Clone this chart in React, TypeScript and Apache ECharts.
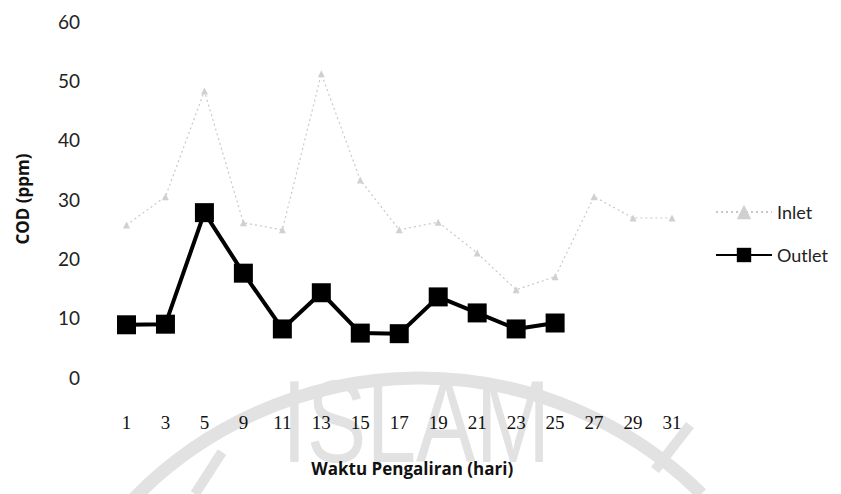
import React, { useEffect, useRef } from "react";
import * as echarts from "echarts";

const categories = ["1", "3", "5", "9", "11", "13", "15", "17", "19", "21", "23", "25", "27", "29", "31"];
const inletValues = [25.6, 30.4, 48.2, 26.0, 24.8, 51.1, 33.2, 24.8, 26.1, 20.9, 14.7, 16.9, 30.4, 26.8, 26.8];
const outletValues = [8.8, 8.9, 27.7, 17.5, 8.1, 14.2, 7.4, 7.3, 13.5, 10.8, 8.1, 9.1];
const yTicks = [0, 10, 20, 30, 40, 50, 60];

export default function App() {
  const ref = useRef<HTMLDivElement>(null);
  useEffect(() => {
    if (!ref.current) return;
    const chart = echarts.init(ref.current, null, { renderer: "svg" });
    const wm = "#e2e2e2";
    chart.setOption({
      animation: false,
      backgroundColor: "#ffffff",
      graphic: [
        {
          type: "arc",
          z: -10,
          shape: { cx: 420, cy: 778, r: 400, startAngle: -2.37, endAngle: -0.79, clockwise: true },
          style: { stroke: wm, lineWidth: 13, fill: "none" },
          silent: true,
        },
        {
          type: "line",
          z: -10,
          shape: { x1: 195, y1: 494, x2: 222, y2: 452 },
          style: { stroke: wm, lineWidth: 10 },
          silent: true,
        },
        {
          type: "line",
          z: -10,
          shape: { x1: 655, y1: 470, x2: 690, y2: 425 },
          style: { stroke: wm, lineWidth: 10 },
          silent: true,
        },
        {
          type: "text",
          z: -10,
          x: 282,
          y: 422,
          scaleX: 0.77,
          silent: true,
          style: {
            text: "ISLAM",
            fontSize: 116,
            fontFamily: "Liberation Sans",
            fill: wm,
            verticalAlign: "middle",
            lineHeight: 116,
          },
        },
      ],
      grid: { left: 107, right: 149.5, top: 21, bottom: 117, containLabel: false },
      legend: {
        orient: "vertical",
        left: 710,
        top: 198,
        itemWidth: 56,
        itemHeight: 18,
        itemGap: 25,
        textStyle: { fontFamily: "Lato", fontSize: 18, color: "#222" },
        data: ["Inlet", "Outlet"],
      },
      xAxis: {
        type: "category",
        data: categories,
        boundaryGap: true,
        name: "Waktu Pengaliran (hari)",
        nameLocation: "middle",
        nameGap: 83,
        nameTextStyle: { fontFamily: "Open Sans", fontWeight: "bold", fontSize: 17, color: "#111", padding: [0, 0, 0, 26] },
        axisLine: { show: false },
        axisTick: { show: false },
        axisLabel: { margin: 36, fontFamily: "Liberation Serif", fontSize: 19, color: "#111" },
        splitLine: { show: false },
      },
      yAxis: {
        type: "value",
        min: 0,
        max: 60,
        interval: 10,
        name: "COD (ppm)",
        nameLocation: "middle",
        nameGap: 76,
        nameTextStyle: { fontFamily: "Open Sans", fontWeight: "bold", fontSize: 17, color: "#111" },
        axisLine: { show: false },
        axisTick: { show: false },
        splitLine: { show: false },
        axisLabel: {
          margin: 27,
          fontFamily: "Lato",
          fontSize: 19,
          color: "#222",
          formatter: (v: number) => (yTicks.includes(v) ? String(v) : ""),
        },
      },
      series: [
        {
          name: "Inlet",
          type: "line",
          data: inletValues,
          symbol: "triangle",
          symbolSize: 7,
          lineStyle: { color: "#c8c8c8", width: 1.2, type: [2, 3] },
          itemStyle: { color: "#d0d0d0" },
          z: 2,
        },
        {
          name: "Outlet",
          type: "line",
          data: outletValues,
          symbol: "rect",
          symbolSize: 19,
          lineStyle: { color: "#000", width: 4 },
          itemStyle: { color: "#000" },
          z: 3,
        },
      ],
    });
    return () => chart.dispose();
  }, []);
  return <div ref={ref} style={{ position: "fixed", left: 0, top: 0, width: 841, height: 494 }} />;
}
